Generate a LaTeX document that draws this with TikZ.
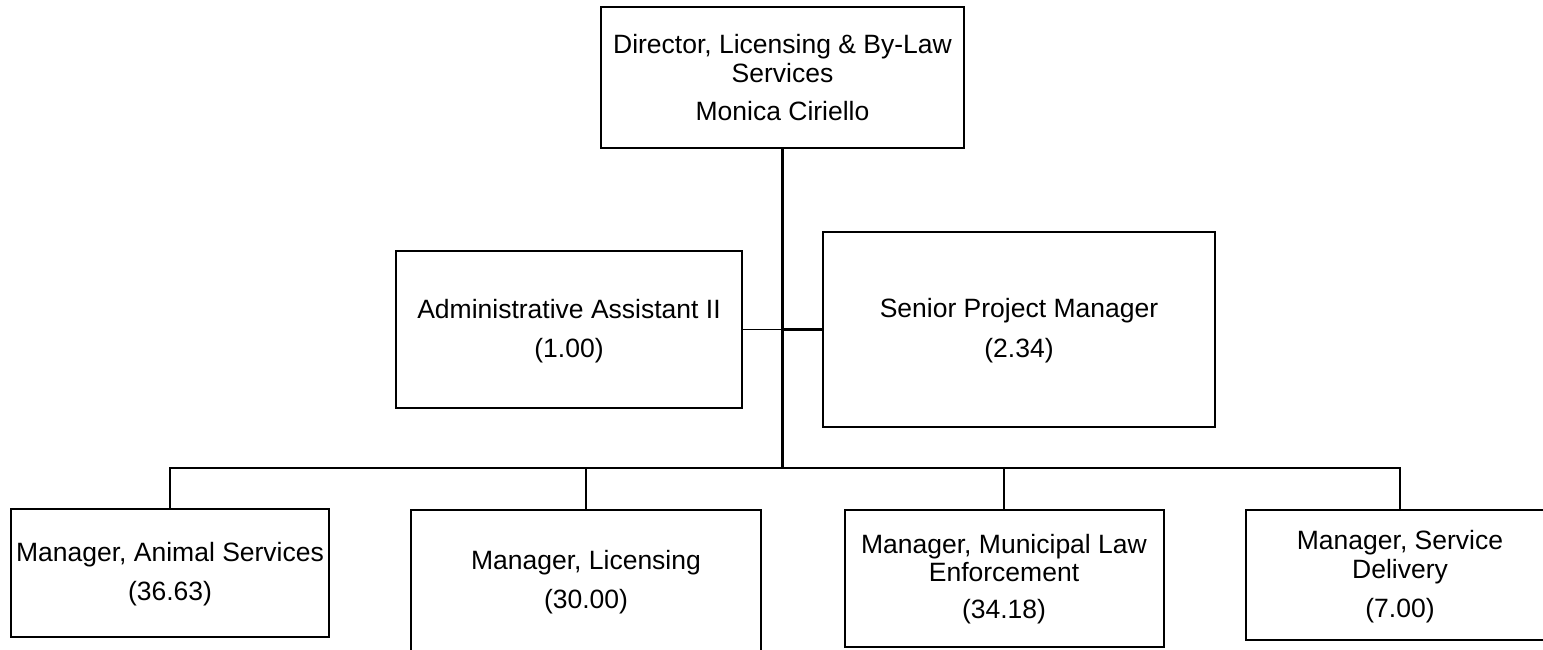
\documentclass[tikz,border=0pt]{standalone}
\usepackage{fontspec}
\setmainfont{Liberation Sans}
\begin{document}
\begin{tikzpicture}[x=1pt,y=-1pt,
  box/.style={draw, line width=2pt, rectangle, inner sep=0pt},
  txt/.style={anchor=base, inner sep=0pt, font=\fontsize{26.5}{30}\selectfont},
  lnthin/.style={line width=1.8pt},
  lnmid/.style={line width=2.4pt},
  lnthick/.style={line width=3pt}]
\useasboundingbox (0,0) rectangle (1543,649);
% boxes
\node[box, minimum width=363pt, minimum height=141pt] (top) at (782.5,77.5) {};
\node[box, minimum width=346pt, minimum height=157pt] (admin) at (569,329.5) {};
\node[box, minimum width=392pt, minimum height=195pt] (senior) at (1019,329.5) {};
\node[box, minimum width=318pt, minimum height=128pt] (b1) at (170,573) {};
\node[box, minimum width=350pt, minimum height=150pt] (b2) at (586,585) {};
\node[box, minimum width=319pt, minimum height=137pt] (b3) at (1004,578.5) {};
\node[box, minimum width=308pt, minimum height=130pt] (b4) at (1400,575) {};
% texts
\node[txt] (top1) at (782.5,53) {Director, Licensing \& By-Law};
\node[txt] (top2) at (782.5,82) {Services};
\node[txt] (top3) at (782.5,120) {Monica Ciriello};
\node[txt] (ad1) at (569,318) {Administrative Assistant II};
\node[txt] (ad2) at (569,357) {(1.00)};
\node[txt] (se1) at (1019,317) {Senior Project Manager};
\node[txt] (se2) at (1019,357) {(2.34)};
\node[txt] (b1a) at (170,561) {Manager, Animal Services};
\node[txt] (b1b) at (170,600) {(36.63)};
\node[txt] (b2a) at (586,569) {Manager, Licensing};
\node[txt] (b2b) at (586,608) {(30.00)};
\node[txt] (b3a) at (1004,553) {Manager, Municipal Law};
\node[txt] (b3b) at (1004,581) {Enforcement};
\node[txt] (b3c) at (1004,618) {(34.18)};
\node[txt] (b4a) at (1400,549) {Manager, Service};
\node[txt] (b4b) at (1400,578) {Delivery};
\node[txt] (b4c) at (1400,617) {(7.00)};
% connectors
\coordinate (j) at (top.south |- admin.east);
\coordinate (bus) at (top.south |- 0,468);
\draw[lnthick] (top.south) -- (j);
\draw[lnmid] (j) -- (bus);
\draw[lnthin] (admin.east) -- (j);
\draw[lnthick] (j) -- (senior.west);
\draw[lnthin] (b1.north) -- (b1.north |- bus) -- (b4.north |- bus) -- (b4.north);
\draw[lnthin] (b2.north) -- (b2.north |- bus);
\draw[lnthin] (b3.north) -- (b3.north |- bus);
\end{tikzpicture}
\end{document}
